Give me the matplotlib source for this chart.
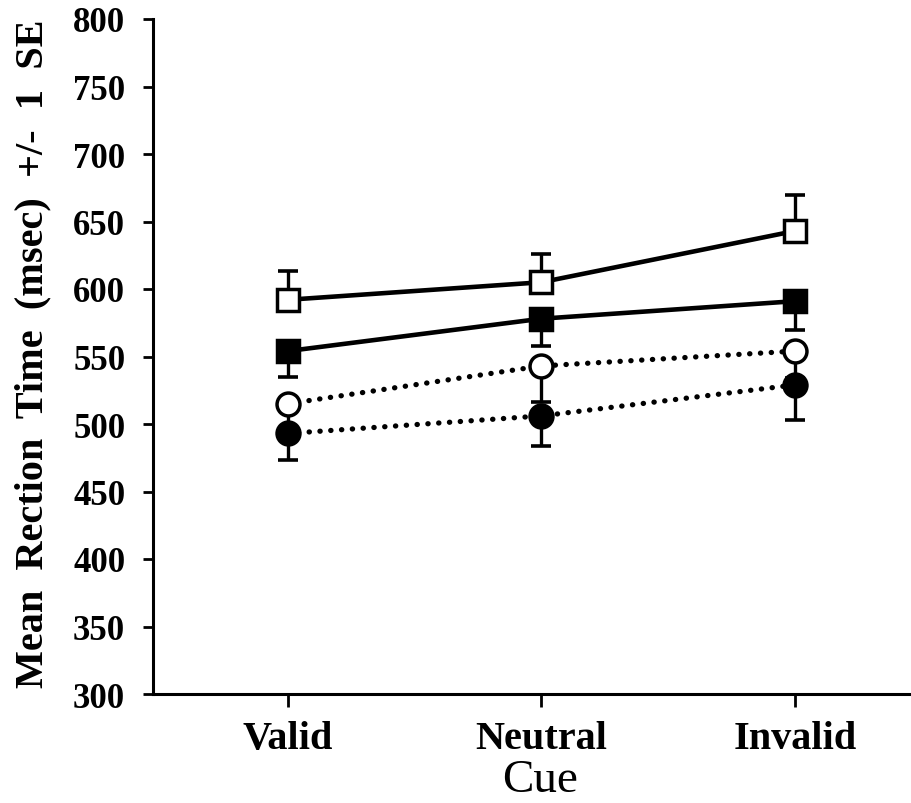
import matplotlib
matplotlib.use("Agg")
import matplotlib.pyplot as plt

categories = ["Valid", "Neutral", "Invalid"]
yticks = [300, 350, 400, 450, 500, 550, 600, 650, 700, 750, 800]

open_sq = [592, 605, 643]
open_sq_se = [21, 21, 27]        # drawn upward
filled_sq = [554, 578, 591]
filled_sq_se = [19, 20, 21]      # drawn downward
open_circ = [515, 543, 554]
open_circ_se = [18, 27, 20]      # drawn downward
filled_circ = [493, 506, 529]
filled_circ_se = [20, 22, 26]    # drawn downward

plt.rcParams['font.family'] = ['Liberation Serif', 'DejaVu Serif']

W, H = 912, 804
fig = plt.figure(figsize=(W / 100, H / 100), dpi=100)
ax = fig.add_axes([153 / W, 1 - 695 / H, 1 - 153 / W, (695 - 20) / H])

x = list(range(len(categories)))
zeros = [0] * len(x)

def series(vals, lower, upper, marker, face, ls):
    ax.errorbar(x, vals, yerr=[lower, upper], fmt='none', ecolor='black',
                elinewidth=2.4, capsize=7, capthick=2.6, zorder=2, clip_on=False)
    ax.plot(x, vals, color='black', lw=3.3 if ls == '-' else 3.8,
            linestyle=ls if ls == '-' else (0, (0.05, 2.0)),
            dash_capstyle='round', solid_capstyle='butt',
            marker=marker, markersize=16.5, markerfacecolor=face,
            markeredgecolor='black', markeredgewidth=2.5, zorder=3, clip_on=False)

series(open_sq, zeros, open_sq_se, 's', 'white', '-')
series(filled_sq, filled_sq_se, zeros, 's', 'black', '-')
series(open_circ, open_circ_se, zeros, 'o', 'white', ':')
series(filled_circ, filled_circ_se, zeros, 'o', 'black', ':')

ax.set_xlim(-0.53, 2.46)
ax.set_ylim(300, 800)
ax.spines['top'].set_visible(False)
ax.spines['right'].set_visible(False)
for s in ('left', 'bottom'):
    ax.spines[s].set_linewidth(2.2)

ax.set_yticks(yticks)
ax.set_yticklabels([str(v) for v in yticks], fontsize=25, fontweight='bold')
ax.set_xticks(x)
ax.set_xticklabels(categories, fontsize=29, fontweight='bold')
ax.tick_params(axis='y', direction='out', length=7, width=2, pad=13)
ax.tick_params(axis='x', direction='out', length=9, width=2, pad=10)

fig.text(33 / W, 1 - 354 / H, "Mean  Rection  Time  (msec)  +/-  1  SE",
         rotation=90, ha='center', va='center', fontsize=29, fontweight='bold')
fig.text(540 / W, 2 / H, "Cue", ha='center', va='bottom', fontsize=34)

fig.savefig("out.png", dpi=100)
